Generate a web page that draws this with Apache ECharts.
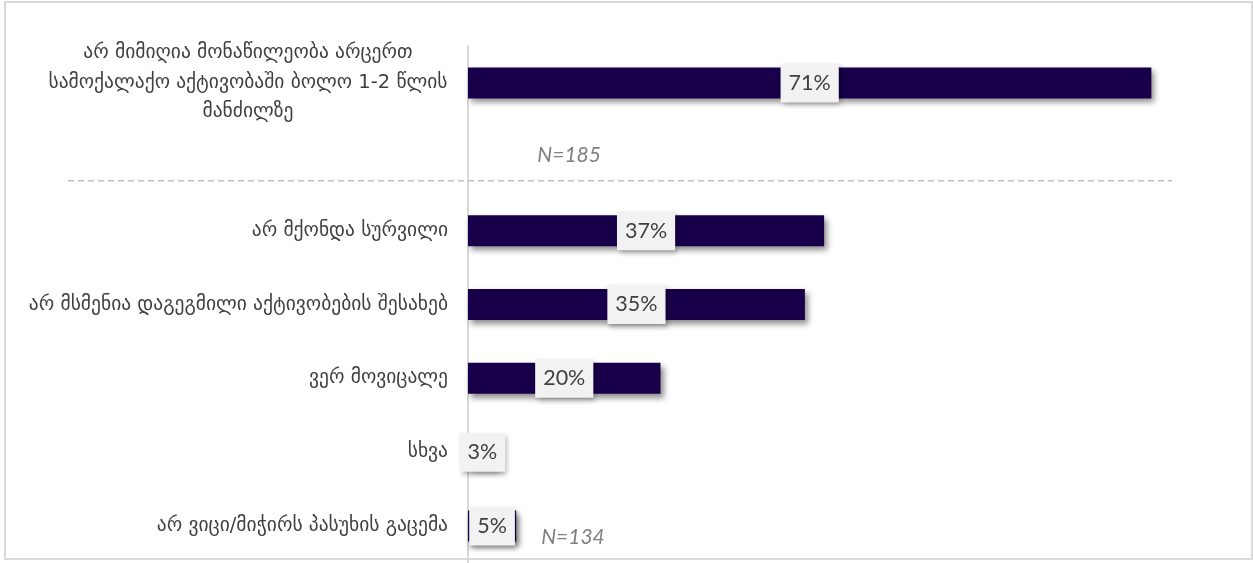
<!DOCTYPE html>
<html>
<head>
<meta charset="utf-8">
<script src="https://cdn.jsdelivr.net/npm/echarts@6/dist/echarts.min.js"></script>
<style>
html,body{margin:0;padding:0;background:#fff;}
#c{width:1253px;height:563px;}
</style>
</head>
<body>
<div id="c"></div>
<script>
const categories = [
  'არ მიმიღია მონაწილეობა არცერთ\nსამოქალაქო აქტივობაში ბოლო 1-2 წლის\nმანძილზე',
  '',
  'არ მქონდა სურვილი',
  'არ მსმენია დაგეგმილი აქტივობების შესახებ',
  'ვერ მოვიცალე',
  'სხვა',
  'არ ვიცი/მიჭირს პასუხის გაცემა'
];
const values = [71, null, 37, 35, 20, 3, 5];
const sampleNotes = [
  { text: 'N=185', category: 1, value: 7.2, dy: -2 },
  { text: 'N=134', category: 6, value: 7.6, dy: 11 }
];

const labelFont = 'DejaVu Sans';
const labelSize = 19.5;

function measure(t) {
  const cv = document.createElement('canvas').getContext('2d');
  cv.font = labelSize + 'px "' + labelFont + '"';
  return cv.measureText(t).width;
}

const chart = echarts.init(document.getElementById('c'));
const option = {
  backgroundColor: '#fff',
  animation: false,
  grid: { left: 468, right: 15, top: 46, height: 518 },
  xAxis: {
    type: 'value', min: 0, max: 80,
    show: false
  },
  yAxis: {
    type: 'category', inverse: true, data: categories,
    axisTick: { show: false },
    axisLine: { lineStyle: { color: '#d9d9d9', width: 2 } },
    axisLabel: {
      margin: 20, color: '#404040', fontFamily: labelFont, fontSize: labelSize,
      formatter: function (v) {
        if (v.indexOf('\n') >= 0) {
          return v.split('\n').map(l => '{c|' + l + '}').join('\n');
        }
        return v;
      },
      rich: {
        c: { align: 'center', width: 400, lineHeight: 29.5, fontFamily: labelFont, fontSize: labelSize, color: '#404040' }
      }
    }
  },
  series: [{
    type: 'bar',
    data: values,
    barWidth: 31,
    itemStyle: {
      color: '#170049',
      shadowColor: 'rgba(0,0,0,0.45)', shadowBlur: 6, shadowOffsetX: 3, shadowOffsetY: 4
    },
    label: {
      show: true, position: 'inside',
      formatter: '{c}%',
      color: '#404040', fontFamily: 'Lato', fontSize: 21.5,
      backgroundColor: '#f2f2f2',
      padding: [9, 8, 8, 8],
      shadowColor: 'rgba(0,0,0,0.3)', shadowBlur: 5, shadowOffsetX: 2, shadowOffsetY: 3
    }
  }]
};
(function(){
  const lines = categories[0].split('\n');
  option.yAxis.axisLabel.rich.c.width = Math.ceil(Math.max.apply(null, lines.map(measure)));
})();
chart.setOption(option);

const gfx = [];
gfx.push({
  type: 'rect', shape: { x: 5, y: 2, width: 1247, height: 557 },
  style: { fill: 'none', stroke: '#d9d9d9', lineWidth: 2 }, silent: true, z: 0
});
const y0 = chart.convertToPixel({ yAxisIndex: 0 }, 1);
gfx.push({
  type: 'line', shape: { x1: 68, y1: y0 + 24, x2: 1172, y2: y0 + 24 },
  style: { stroke: '#bfbfbf', lineWidth: 1.5, lineDash: [6, 4] }, z: 1
});
sampleNotes.forEach(n => {
  const p = chart.convertToPixel({ xAxisIndex: 0, yAxisIndex: 0 }, [n.value, n.category]);
  gfx.push({
    type: 'text', x: p[0], y: p[1] + n.dy,
    style: { text: n.text, fill: '#7f7f7f', font: 'italic 21px Lato', textVerticalAlign: 'middle', textAlign: 'left' },
    z: 5
  });
});
chart.setOption({ graphic: gfx });
</script>
</body>
</html>
